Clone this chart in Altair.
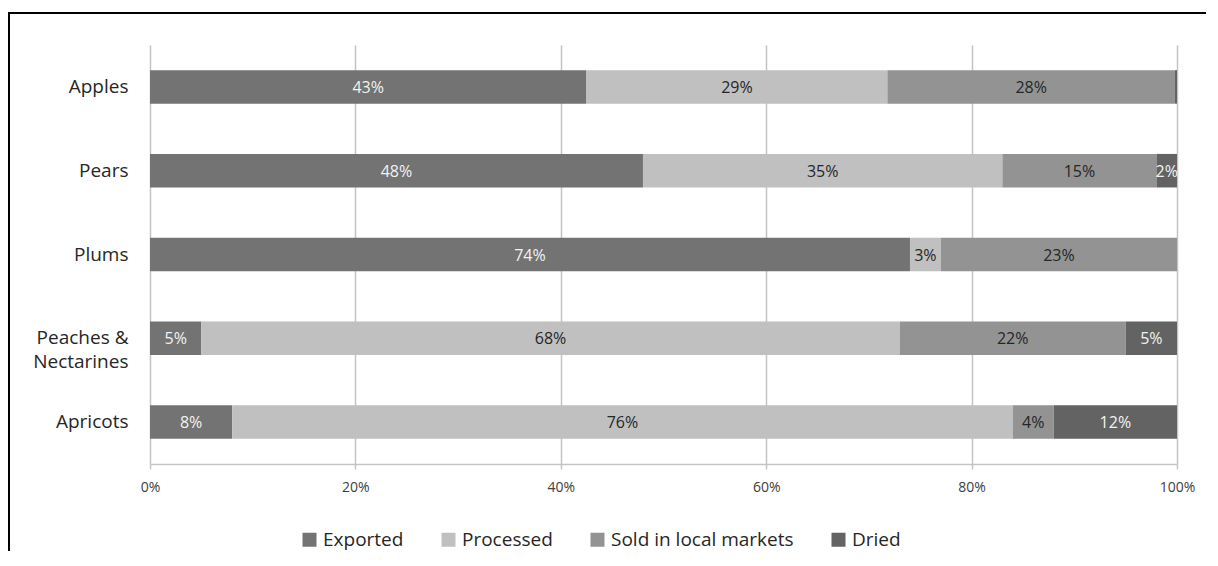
import altair as alt
import pandas as pd

# ---- data ----
fruits = ["Apples", "Pears", "Plums", "Peaches & Nectarines", "Apricots"]
segments = ["Exported", "Processed", "Sold in local markets", "Dried"]

exported = [42.5, 48.0, 74.0, 5.0, 8.0]
processed = [29.3, 35.0, 3.0, 68.0, 76.0]
sold_local = [28.0, 15.0, 23.0, 22.0, 4.0]
dried = [0.2, 2.0, 0.0, 5.0, 12.0]

label_exported = ["43%", "48%", "74%", "5%", "8%"]
label_processed = ["29%", "35%", "3%", "68%", "76%"]
label_sold = ["28%", "15%", "23%", "22%", "4%"]
label_dried = ["", "2%", "", "5%", "12%"]

x_ticks = [0, 20, 40, 60, 80, 100]

# ---- styles ----
bar_colors = ["#737373", "#c0c0c0", "#939393", "#636363"]
text_colors = ["#f2f2f2", "#262626", "#262626", "#f2f2f2"]
FONT = "Open Sans"

series = [exported, processed, sold_local, dried]
labels = [label_exported, label_processed, label_sold, label_dried]
rows = []
for si, seg in enumerate(segments):
    for fi, fr in enumerate(fruits):
        rows.append({"fruit": fr, "segment": seg, "seg_idx": si,
                     "value": series[si][fi], "label": labels[si][fi]})
df = pd.DataFrame(rows)

base = alt.Chart(df).transform_stack(
    stack="value", groupby=["fruit"], as_=["x0", "x1"],
    sort=[alt.SortField("seg_idx", order="ascending")]
)

x_axis = alt.Axis(values=x_ticks, labelExpr="datum.value + '%'", title=None,
                  grid=True, gridColor="#c4c4c4", gridWidth=1.5,
                  domainColor="#c4c4c4", domainWidth=1.5,
                  tickColor="#c4c4c4", tickWidth=1.5, tickSize=5,
                  labelFont=FONT, labelFontSize=14, labelColor="#404040",
                  labelPadding=11, labelFlush=False, labelOverlap=False)
x_scale = alt.Scale(domain=[0, 100], nice=False, zero=True)

y_enc = alt.Y("fruit:N", sort=fruits, title=None,
              scale=alt.Scale(paddingInner=0.6, paddingOuter=0.3),
              axis=alt.Axis(domain=False, ticks=False, grid=False,
                            labelFont=FONT, labelFontSize=19, labelColor="#262626",
                            labelPadding=22, labelLineHeight=24, labelLimit=300,
                            labelExpr="datum.value == 'Peaches & Nectarines' ? ['Peaches &', 'Nectarines'] : datum.value"))

bars = base.mark_bar().encode(
    y=y_enc,
    x=alt.X("x0:Q", scale=x_scale, axis=x_axis),
    x2="x1:Q",
    color=alt.Color("segment:N",
                    scale=alt.Scale(domain=segments, range=bar_colors),
                    legend=alt.Legend(orient="none", legendX=150, legendY=485,
                                      direction="horizontal", title=None,
                                      symbolType="square", symbolSize=196,
                                      symbolStrokeWidth=0, symbolOpacity=1,
                                      labelFont=FONT, labelFontSize=19,
                                      labelColor="#262626", labelOffset=4,
                                      labelLimit=400,
                                      columnPadding=35, padding=0)),
)

texts = base.transform_calculate(mid="(datum.x0 + datum.x1) / 2").mark_text(
    font=FONT, fontSize=16, baseline="middle", align="center", dy=1
).encode(
    y=y_enc,
    x=alt.X("mid:Q", scale=x_scale, axis=x_axis),
    text="label:N",
    color=alt.Color("segment:N",
                    scale=alt.Scale(domain=segments, range=text_colors),
                    legend=None),
)

frame_df = pd.DataFrame({"k": [0]})
frame_top = alt.Chart(frame_df).mark_rule(color="#000000", strokeWidth=2).encode(
    x=alt.value(-141), x2=alt.value(1056), y=alt.value(-32))
frame_left = alt.Chart(frame_df).mark_rule(color="#000000", strokeWidth=2).encode(
    x=alt.value(-141), y=alt.value(-33), y2=alt.value(506))

chart = alt.layer(frame_top, frame_left, bars, texts).resolve_scale(
    color="independent"
).properties(
    width=1027, height=419,
    padding={"left": 0, "top": 3, "right": 0, "bottom": 0},
    background="white",
).configure_view(stroke=None)

chart.save("out.html", embed_options={"renderer": "svg", "actions": False})
